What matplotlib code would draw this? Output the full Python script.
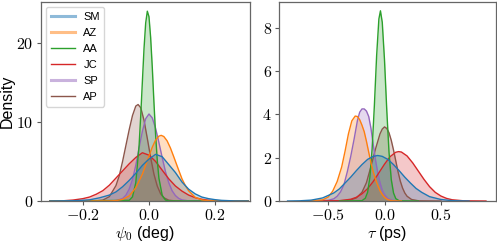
import matplotlib
matplotlib.use("Agg")
import matplotlib.pyplot as plt
from matplotlib.ticker import FuncFormatter, FixedLocator
from matplotlib.lines import Line2D

plt.rcParams['font.family'] = ['Liberation Sans', 'DejaVu Sans']
plt.rcParams['mathtext.fontset'] = 'cm'

labels = ["SM", "AZ", "AA", "JC", "SP", "AP"]
colors = ["#1f77b4", "#ff7f0e", "#2ca02c", "#d62728", "#9467bd", "#8c564b"]

# ---- psi_0 (deg) densities ----
psi_SM_x = [-0.30, -0.22, -0.18, -0.15, -0.12, -0.10, -0.08, -0.06, -0.04, -0.02, 0.0, 0.02, 0.04, 0.06, 0.08, 0.10, 0.12, 0.14, 0.16, 0.18, 0.20, 0.22, 0.26, 0.30]
psi_SM_y = [0.0, 0.04, 0.15, 0.4, 0.75, 1.15, 1.8, 2.6, 3.5, 4.5, 5.3, 5.9, 5.6, 4.6, 3.6, 2.4, 1.5, 0.9, 0.5, 0.3, 0.17, 0.08, 0.01, 0.0]
psi_AZ_x = [-0.30, -0.12, -0.10, -0.08, -0.06, -0.04, -0.02, 0.0, 0.01, 0.02, 0.03, 0.037, 0.045, 0.055, 0.065, 0.075, 0.09, 0.10, 0.11, 0.12, 0.14, 0.16, 0.18, 0.30]
psi_AZ_y = [0.0, 0.01, 0.05, 0.2, 0.64, 1.67, 3.4, 5.7, 6.8, 7.7, 8.2, 8.3, 8.15, 7.6, 6.7, 5.6, 3.9, 2.8, 1.96, 1.29, 0.47, 0.14, 0.03, 0.0]
psi_AA_x = [-0.30, -0.06, -0.05, -0.04, -0.03, -0.025, -0.02, -0.015, -0.01, -0.005, 0.0, 0.005, 0.01, 0.015, 0.02, 0.025, 0.03, 0.04, 0.05, 0.06, 0.30]
psi_AA_y = [0.0, 0.08, 0.52, 2.3, 7.0, 10.8, 15.1, 19.3, 22.5, 24.0, 23.3, 20.7, 16.9, 12.5, 8.4, 5.2, 2.9, 0.72, 0.12, 0.01, 0.0]
psi_JC_x = [-0.30, -0.26, -0.23, -0.20, -0.18, -0.16, -0.14, -0.12, -0.10, -0.08, -0.06, -0.04, -0.02, 0.0, 0.02, 0.04, 0.06, 0.08, 0.10, 0.12, 0.14, 0.16, 0.18, 0.22, 0.30]
psi_JC_y = [0.0, 0.03, 0.12, 0.3, 0.5, 0.85, 1.3, 2.0, 2.9, 3.8, 4.7, 5.5, 6.1, 5.8, 5.0, 3.9, 2.8, 1.9, 1.25, 0.75, 0.42, 0.22, 0.1, 0.02, 0.0]
psi_SP_x = [-0.30, -0.12, -0.10, -0.08, -0.07, -0.06, -0.05, -0.04, -0.03, -0.02, -0.01, 0.0, 0.01, 0.02, 0.03, 0.04, 0.05, 0.06, 0.07, 0.08, 0.09, 0.10, 0.12, 0.30]
psi_SP_y = [0.0, 0.0, 0.05, 0.31, 0.73, 1.5, 2.7, 4.5, 6.7, 8.8, 10.4, 11.0, 10.5, 9.2, 7.4, 5.5, 3.7, 2.3, 1.3, 0.69, 0.33, 0.14, 0.02, 0.0]
psi_AP_x = [-0.30, -0.16, -0.14, -0.12, -0.10, -0.09, -0.08, -0.07, -0.06, -0.05, -0.04, -0.033, -0.025, -0.015, -0.005, 0.005, 0.015, 0.025, 0.035, 0.045, 0.06, 0.08, 0.30]
psi_AP_y = [0.0, 0.02, 0.11, 0.55, 1.95, 3.2, 5.0, 7.0, 9.0, 10.8, 12.0, 12.2, 11.8, 10.2, 7.9, 5.5, 3.4, 1.9, 0.93, 0.41, 0.1, 0.01, 0.0]

# ---- tau (ps) densities ----
tau_SM_x = [-0.86, -0.75, -0.65, -0.55, -0.45, -0.40, -0.35, -0.30, -0.25, -0.20, -0.15, -0.10, -0.06, -0.02, 0.03, 0.08, 0.13, 0.18, 0.23, 0.28, 0.33, 0.40, 0.50, 0.60, 0.75]
tau_SM_y = [0.0, 0.01, 0.04, 0.14, 0.37, 0.56, 0.83, 1.1, 1.4, 1.68, 1.92, 2.06, 2.1, 2.06, 1.92, 1.68, 1.4, 1.1, 0.83, 0.58, 0.4, 0.2, 0.07, 0.015, 0.0]
tau_AZ_x = [-0.70, -0.55, -0.50, -0.46, -0.42, -0.38, -0.35, -0.32, -0.29, -0.26, -0.24, -0.22, -0.20, -0.18, -0.16, -0.14, -0.12, -0.10, -0.08, -0.06, -0.04, -0.02, 0.0, 0.03, 0.07, 0.15]
tau_AZ_y = [0.0, 0.05, 0.18, 0.45, 0.9, 1.57, 2.3, 3.1, 3.7, 3.92, 3.9, 3.75, 3.5, 3.2, 2.75, 2.25, 1.75, 1.35, 1.0, 0.72, 0.47, 0.3, 0.17, 0.06, 0.01, 0.0]
tau_AA_x = [-0.40, -0.20, -0.17, -0.15, -0.13, -0.11, -0.09, -0.07, -0.05, -0.036, -0.02, 0.0, 0.02, 0.04, 0.06, 0.08, 0.10, 0.13, 0.30]
tau_AA_y = [0.0, 0.015, 0.13, 0.4, 1.09, 2.4, 4.4, 6.7, 8.4, 8.78, 8.25, 6.5, 4.2, 2.24, 0.99, 0.37, 0.11, 0.01, 0.0]
tau_JC_x = [-0.68, -0.40, -0.30, -0.25, -0.20, -0.15, -0.10, -0.05, 0.0, 0.05, 0.10, 0.125, 0.15, 0.20, 0.25, 0.30, 0.35, 0.40, 0.45, 0.50, 0.55, 0.60, 0.70, 0.90]
tau_JC_y = [0.0, 0.014, 0.08, 0.17, 0.33, 0.57, 0.9, 1.3, 1.7, 2.05, 2.25, 2.28, 2.26, 2.08, 1.76, 1.38, 1.0, 0.66, 0.4, 0.23, 0.12, 0.057, 0.01, 0.0]
tau_SP_x = [-0.70, -0.50, -0.45, -0.42, -0.39, -0.36, -0.33, -0.30, -0.27, -0.24, -0.22, -0.20, -0.18, -0.16, -0.14, -0.12, -0.10, -0.08, -0.06, -0.04, -0.02, 0.0, 0.03, 0.07, 0.12]
tau_SP_y = [0.0, 0.03, 0.1, 0.22, 0.42, 0.75, 1.35, 2.05, 2.85, 3.72, 4.1, 4.25, 4.25, 4.15, 3.9, 3.35, 2.6, 1.9, 1.3, 0.85, 0.5, 0.3, 0.12, 0.03, 0.0]
tau_AP_x = [-0.50, -0.35, -0.30, -0.25, -0.20, -0.16, -0.12, -0.08, -0.04, -0.02, 0.0, 0.02, 0.04, 0.06, 0.08, 0.10, 0.12, 0.14, 0.16, 0.18, 0.20, 0.24, 0.30, 0.50]
tau_AP_y = [0.0, 0.02, 0.05, 0.14, 0.4, 0.85, 1.6, 2.4, 3.1, 3.32, 3.42, 3.35, 3.15, 2.8, 2.35, 1.85, 1.35, 0.92, 0.6, 0.37, 0.22, 0.07, 0.01, 0.0]

psi_curves = [(psi_SM_x, psi_SM_y), (psi_AZ_x, psi_AZ_y), (psi_AA_x, psi_AA_y),
              (psi_JC_x, psi_JC_y), (psi_SP_x, psi_SP_y), (psi_AP_x, psi_AP_y)]
tau_curves = [(tau_SM_x, tau_SM_y), (tau_AZ_x, tau_AZ_y), (tau_AA_x, tau_AA_y),
              (tau_JC_x, tau_JC_y), (tau_SP_x, tau_SP_y), (tau_AP_x, tau_AP_y)]

psi_xticks = [-0.2, 0.0, 0.2]
psi_yticks = [0, 10, 20]
tau_xticks = [-0.5, 0.0, 0.5]
tau_yticks = [0, 2, 4, 6, 8]

W, H = 497, 242
fig = plt.figure(figsize=(W / 100, H / 100), dpi=100)
ax1 = fig.add_axes([40.7 / W, (H - 201) / H, (250 - 40.7) / W, (201 - 1.7) / H])
ax2 = fig.add_axes([279 / W, (H - 201) / H, (496 - 279) / W, (201 - 1.7) / H])


def draw(ax, curves):
    for (x, y), c in reversed(list(zip(curves, colors))):
        ax.fill_between(x, y, 0, color=c, alpha=0.25, linewidth=0)
        ax.plot(x, y, color=c, lw=1.0)


draw(ax1, psi_curves)
draw(ax2, tau_curves)

ax1.set_xlim(-0.328, 0.306)
ax1.set_ylim(0, 25.2)
ax2.set_xlim(-0.936, 0.989)
ax2.set_ylim(0, 9.2)


def fmt1(v, pos):
    return f"${v:.1f}$"


def fmt0(v, pos):
    return f"${v:.0f}$"


for ax, xt, yt in [(ax1, psi_xticks, psi_yticks), (ax2, tau_xticks, tau_yticks)]:
    ax.xaxis.set_major_locator(FixedLocator(xt))
    ax.yaxis.set_major_locator(FixedLocator(yt))
    ax.xaxis.set_major_formatter(FuncFormatter(fmt1))
    ax.yaxis.set_major_formatter(FuncFormatter(fmt0))
    ax.tick_params(labelsize=11.5, length=3, width=0.8, color='0.35', pad=2)
    for sp in ax.spines.values():
        sp.set_color('0.4')
        sp.set_linewidth(0.9)

ax1.set_xlabel(r"$\psi_0$ (deg)", fontsize=11.5, labelpad=1)
ax2.set_xlabel(r"$\tau$ (ps)", fontsize=11.5, labelpad=1)
ax1.set_ylabel("Density", fontsize=11.5)
ax1.yaxis.set_label_coords(-0.122, 0.5)

handles = []
for lab, c in zip(labels, colors):
    if lab in ("SM", "AZ", "SP"):
        handles.append(Line2D([], [], color=c, lw=2.2, alpha=0.5))
    else:
        handles.append(Line2D([], [], color=c, lw=1.0))
ax1.legend(handles, labels, loc='upper left', fontsize=8, handlelength=2.15,
           borderaxespad=0.5, labelspacing=0.55, handletextpad=0.8, borderpad=0.4,
           frameon=True, fancybox=True)

fig.savefig("out.png", dpi=100)
